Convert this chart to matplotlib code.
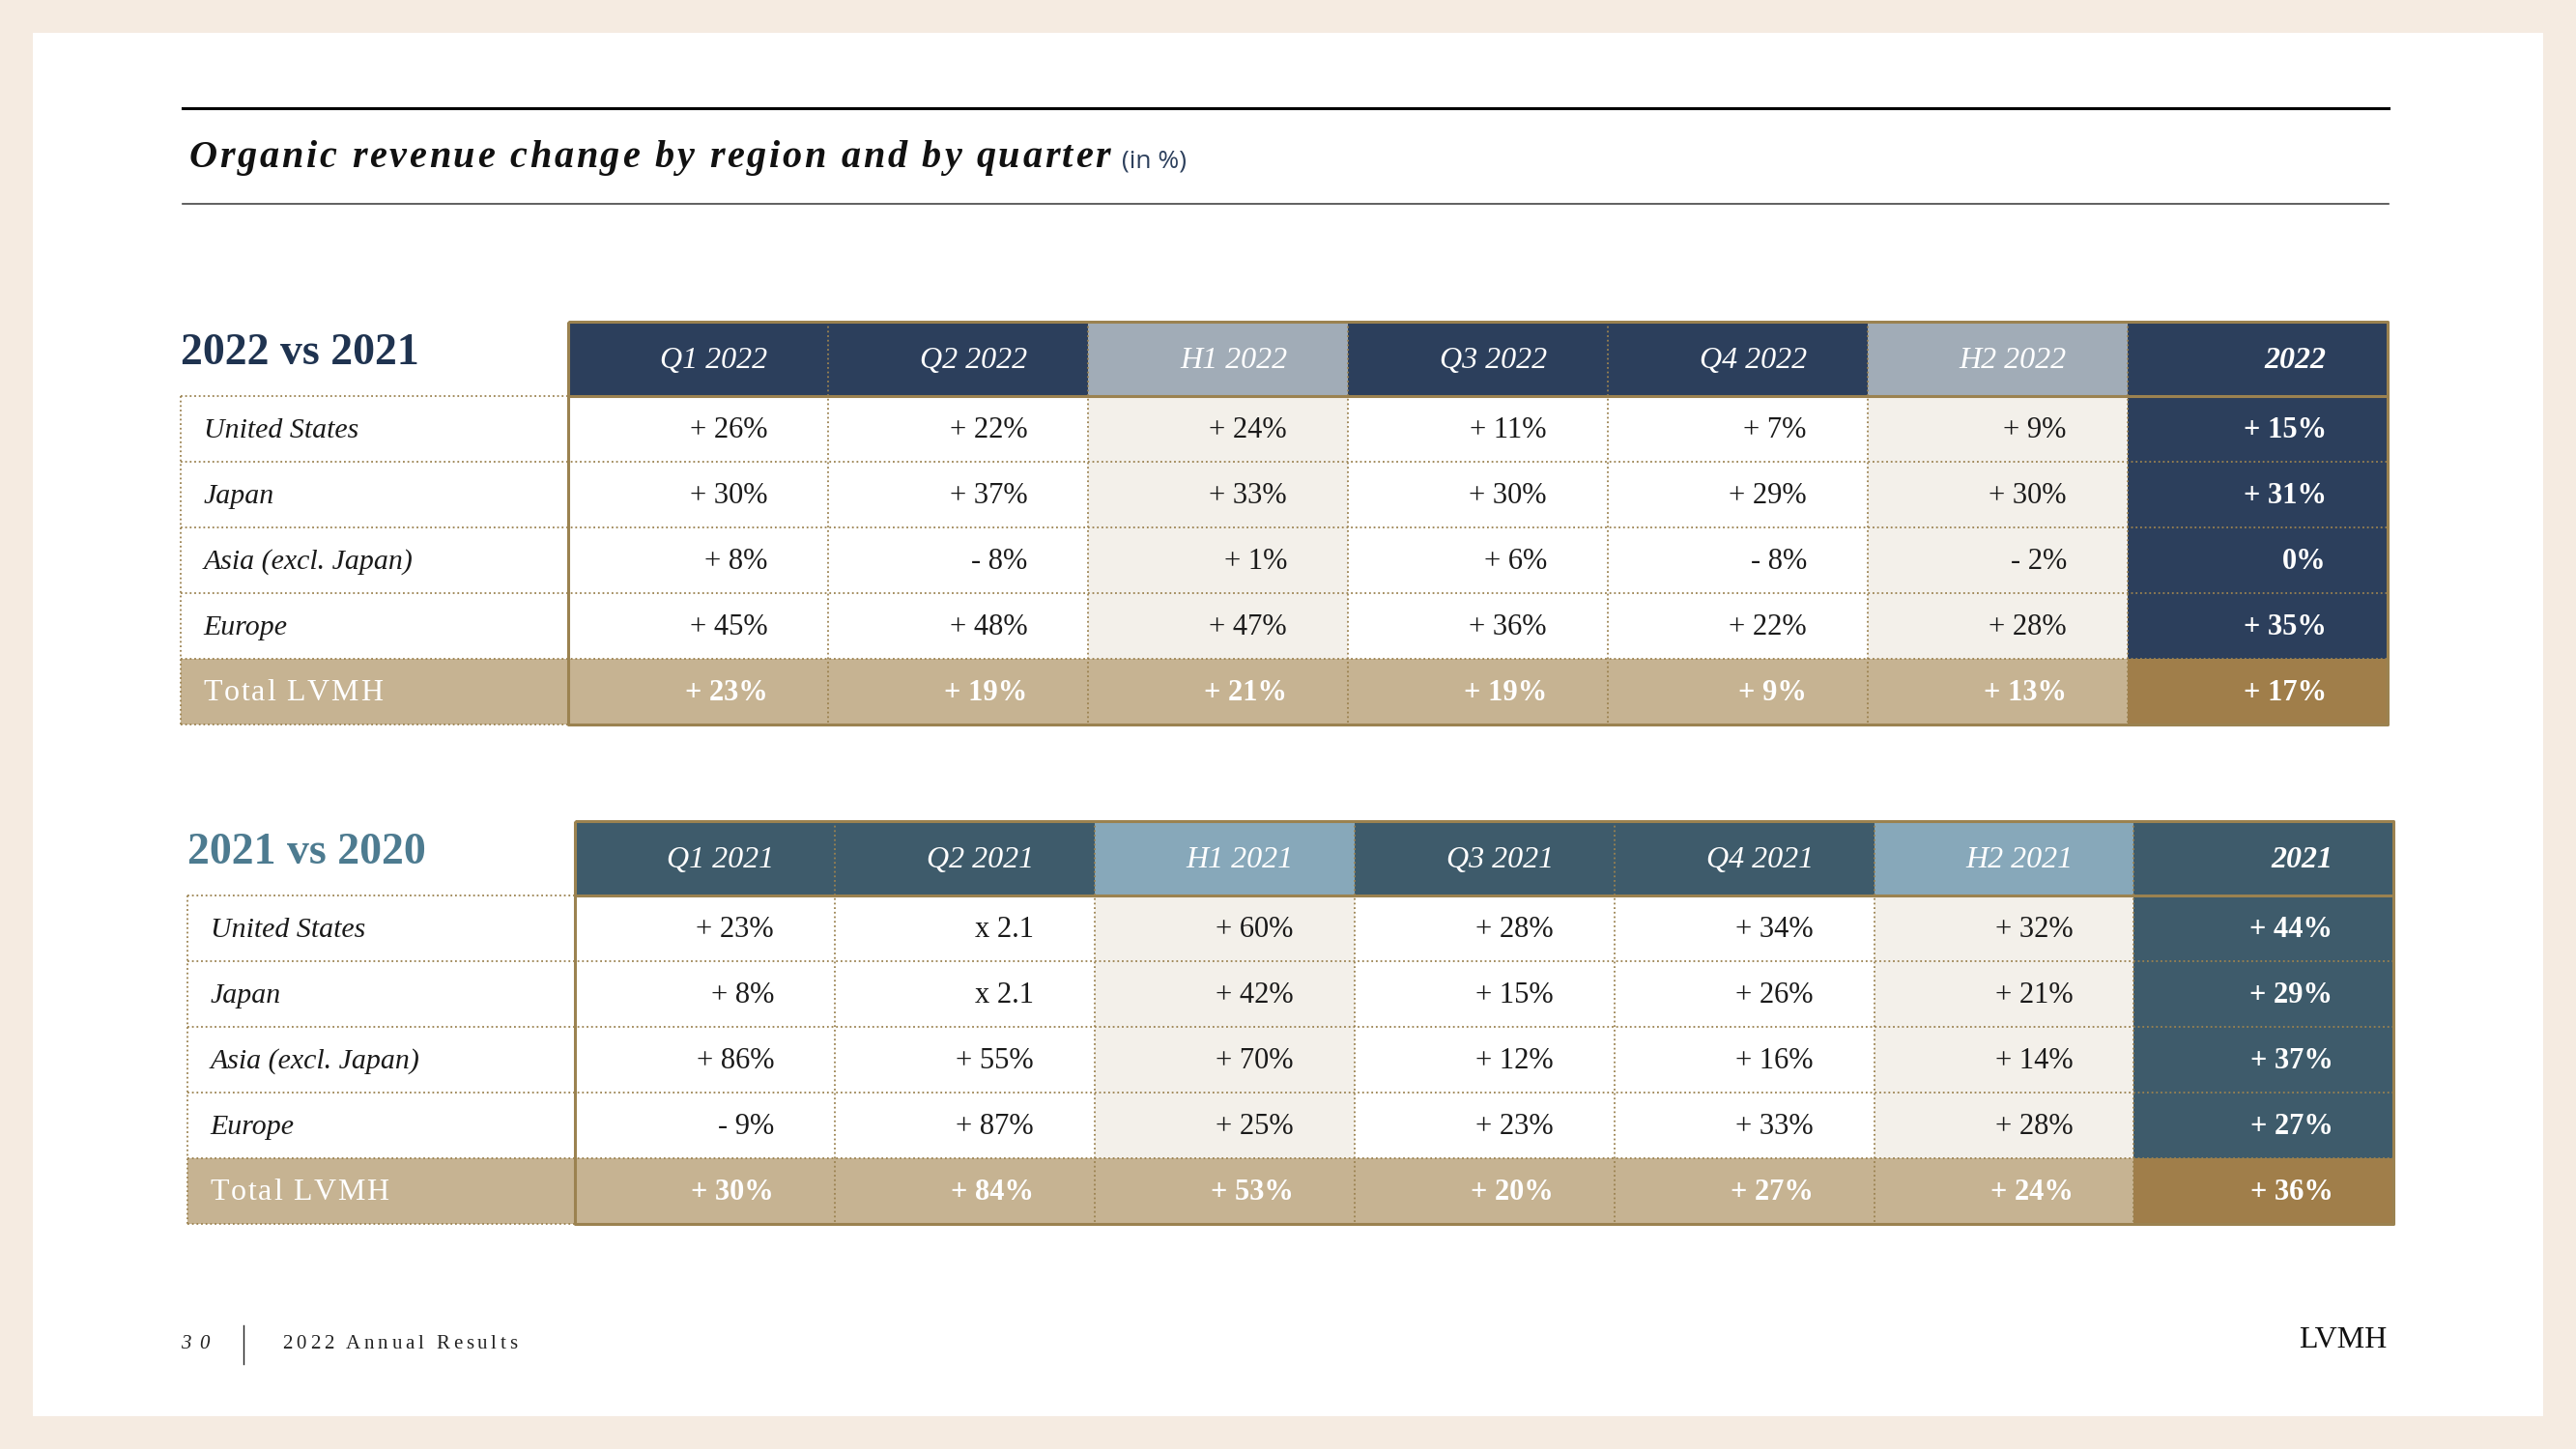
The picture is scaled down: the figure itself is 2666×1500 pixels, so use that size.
import matplotlib.pyplot as plt
from matplotlib.patches import Rectangle

# table data
regions = ["United States", "Japan", "Asia (excl. Japan)", "Europe", "Total LVMH"]
columns_2022 = ["Q1 2022", "Q2 2022", "H1 2022", "Q3 2022", "Q4 2022", "H2 2022", "2022"]
columns_2021 = ["Q1 2021", "Q2 2021", "H1 2021", "Q3 2021", "Q4 2021", "H2 2021", "2021"]

us_2022 = [26, 22, 24, 11, 7, 9, 15]
japan_2022 = [30, 37, 33, 30, 29, 30, 31]
asia_2022 = [8, -8, 1, 6, -8, -2, 0]
europe_2022 = [45, 48, 47, 36, 22, 28, 35]
total_2022 = [23, 19, 21, 19, 9, 13, 17]

us_2021 = [23, "x 2.1", 60, 28, 34, 32, 44]
japan_2021 = [8, "x 2.1", 42, 15, 26, 21, 29]
asia_2021 = [86, 55, 70, 12, 16, 14, 37]
europe_2021 = [-9, 87, 25, 23, 33, 28, 27]
total_2021 = [30, 84, 53, 20, 27, 24, 36]

SERIF = "Liberation Serif"
GOLD_LINE = "#9b8250"
TAN = "#c6b392"
GOLD = "#a07e4a"
CREAM = "#f3f0ea"


def fmt(v):
    if isinstance(v, str):
        return v
    if v > 0:
        return "+ %d%%" % v
    if v < 0:
        return "- %d%%" % abs(v)
    return "0%"


def spaced_text(ax, x, y, s, gap, **kw):
    # draws a string letter by letter with extra tracking (gap in data px)
    r = ax.figure.canvas.get_renderer()
    inv = ax.transData.inverted()
    for ch in s:
        t = ax.text(x, y, ch, **kw)
        bb = t.get_window_extent(renderer=r)
        x0 = inv.transform((bb.x0, bb.y0))[0]
        x1 = inv.transform((bb.x1, bb.y0))[0]
        x += (x1 - x0) + gap
    return x


def draw_table(ax, name, name_color, cols, rows, x0, y0, dark, light):
    label_w, col_w, head_h, row_h = 236, 158.15, 45, 40
    right = x0 + label_w + col_w * len(cols)
    bottom = y0 + head_h + row_h * len(rows)

    ax.text(x0, y0 + 19, name, fontsize=33, fontweight="bold", family=SERIF,
            color=name_color, va="center")

    # label column
    for i, reg in enumerate(regions):
        y = y0 + head_h + i * row_h
        if i == len(regions) - 1:
            ax.add_patch(Rectangle((x0, y), label_w, row_h, color=TAN, lw=0))
            spaced_text(ax, x0 + 14, y + row_h / 2 + 1, reg, 1.0, fontsize=23,
                        family=SERIF, color="white", va="center")
        else:
            ax.text(x0 + 14, y + row_h / 2 + 1, reg, fontsize=21.5, family=SERIF,
                    style="italic", color="#1a1a1a", va="center")

    for j, c in enumerate(cols):
        x = x0 + label_w + j * col_w
        last = j == len(cols) - 1
        half = c.startswith("H")
        ax.add_patch(Rectangle((x, y0), col_w, head_h, color=light if half else dark, lw=0))
        ax.text(x + col_w - 37, y0 + head_h / 2 + 1, c, fontsize=23, family=SERIF,
                style="italic", fontweight="bold" if last else "normal",
                color="white", ha="right", va="center")
        for i, vals in enumerate(rows):
            y = y0 + head_h + i * row_h
            total = i == len(rows) - 1
            if total:
                fc = GOLD if last else TAN
            elif last:
                fc = dark
            else:
                fc = CREAM if half else "white"
            ax.add_patch(Rectangle((x, y), col_w, row_h, color=fc, lw=0))
            white = total or last
            ax.text(x + col_w - 37, y + row_h / 2 + 1, fmt(vals[j]), fontsize=22,
                    family=SERIF, fontweight="bold" if white else "normal",
                    color="white" if white else "#1a1a1a", ha="right", va="center")

    dot = dict(color=GOLD_LINE, lw=1.3, linestyle=(0, (1, 1.6)))
    for j in range(1, len(cols)):
        x = x0 + label_w + j * col_w
        ax.plot([x, x], [y0, bottom], **dot)
    for i in range(1, len(rows)):
        y = y0 + head_h + i * row_h
        ax.plot([x0, right], [y, y], **dot)
    ax.plot([x0, x0 + label_w], [y0 + head_h, y0 + head_h], **dot)
    ax.plot([x0, x0], [y0 + head_h, bottom], **dot)
    ax.plot([x0, x0 + label_w], [bottom, bottom], **dot)

    solid = dict(color=GOLD_LINE, lw=2.2, solid_capstyle="butt")
    ax.plot([x0 + label_w, right, right, x0 + label_w, x0 + label_w],
            [y0, y0, bottom, bottom, y0], **solid)
    ax.plot([x0 + label_w, right], [y0 + head_h, y0 + head_h], **solid)


fig = plt.figure(figsize=(26.66, 15), dpi=100, facecolor="#f5ebe1")
ax = fig.add_axes([0, 0, 1, 1])
ax.set_xlim(0, 1568)
ax.set_ylim(882, 0)
ax.axis("off")
ax.add_patch(Rectangle((20, 20), 1528, 842, color="white", lw=0))

# header rules and title
ax.plot([111, 1454], [66, 66], color="black", lw=2.2)
ax.plot([111, 1454], [124, 124], color="#444444", lw=1.2)
end = spaced_text(ax, 115, 102, "Organic revenue change by region and by quarter", 1.6,
                  fontsize=29, family=SERIF, style="italic", fontweight="bold",
                  color="#111111", va="baseline")
ax.text(end + 5, 102, "(in %)", fontsize=19, family="Open Sans",
        color="#2c3f5c", va="baseline")

draw_table(ax, "2022 vs 2021", "#1f3350", columns_2022,
           [us_2022, japan_2022, asia_2022, europe_2022, total_2022],
           110, 196, "#2c3f5c", "#a1acb7")
draw_table(ax, "2021 vs 2020", "#4d7b90", columns_2021,
           [us_2021, japan_2021, asia_2021, europe_2021, total_2021],
           114, 500, "#3e5b6b", "#87a8ba")

# footer
spaced_text(ax, 110, 818, "30", 5, fontsize=15, family=SERIF, style="italic",
            color="#222222", va="center")
ax.plot([148, 148], [807, 830], color="#222222", lw=1)
spaced_text(ax, 172, 818, "2022 Annual Results", 2.2, fontsize=15, family=SERIF,
            color="#222222", va="center")
ax.text(1453, 816, "LVMH", fontsize=23, family=SERIF, color="#111111", ha="right", va="center")

fig.savefig("out.png", dpi=100, facecolor=fig.get_facecolor())
